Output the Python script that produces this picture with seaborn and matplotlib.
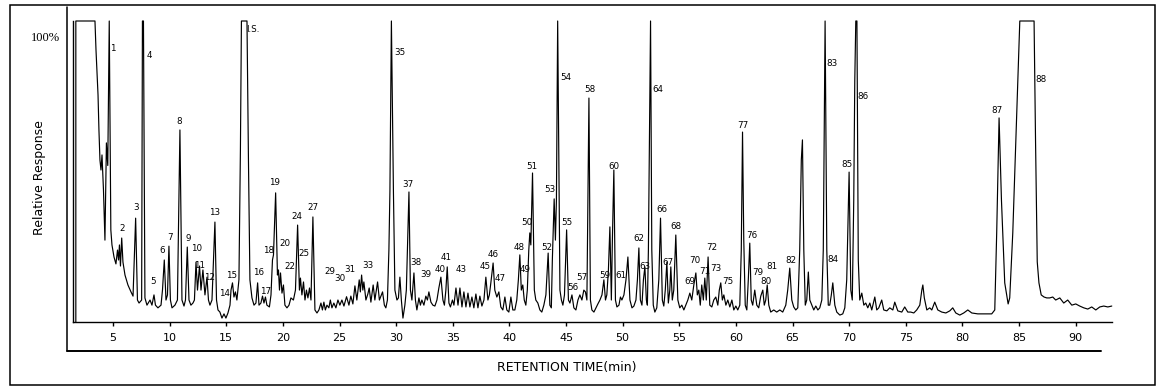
import matplotlib
matplotlib.use("Agg")
import matplotlib.pyplot as plt
from matplotlib.lines import Line2D
from matplotlib.patches import Rectangle
import seaborn as sns
import pandas as pd

# ---------------- data ----------------
# retention time (min) and relative response (%) of the trace vertices
rt = [
    1.72, 1.72, 3.41, 3.50, 3.68, 3.76, 3.85, 3.94, 4.03, 4.16, 4.29, 4.42, 4.54, 4.67, 4.81, 4.91,
    5.09, 5.26, 5.40, 5.49, 5.57, 5.66, 5.77, 5.88, 6.06, 6.32, 6.59, 6.77, 7.00, 7.16, 7.30, 7.53,
    7.60, 7.69, 7.82, 8.00, 8.27, 8.44, 8.62, 8.75, 8.97, 9.24, 9.37, 9.53, 9.68, 9.81, 9.94, 10.07,
    10.21, 10.47, 10.69, 10.91, 11.09, 11.27, 11.40, 11.56, 11.71, 11.88, 12.06, 12.19, 12.33, 12.46,
    12.64, 12.77, 12.94, 13.12, 13.30, 13.43, 13.56, 13.74, 13.87, 14.00, 14.14, 14.27, 14.44, 14.62,
    14.80, 14.97, 15.15, 15.33, 15.42, 15.55, 15.68, 15.81, 15.94, 16.12, 16.25, 16.34, 16.83, 16.96,
    17.09, 17.27, 17.45, 17.62, 17.77, 17.89, 18.06, 18.20, 18.33, 18.46, 18.59, 18.81, 18.95, 19.08,
    19.17, 19.36, 19.52, 19.61, 19.70, 19.79, 19.92, 20.05, 20.18, 20.36, 20.54, 20.71, 20.93, 21.11,
    21.30, 21.46, 21.55, 21.68, 21.82, 21.95, 22.08, 22.21, 22.35, 22.48, 22.65, 22.83, 23.01, 23.18,
    23.36, 23.49, 23.62, 23.75, 23.89, 24.06, 24.19, 24.33, 24.50, 24.68, 24.86, 25.03, 25.21, 25.39,
    25.62, 25.83, 26.00, 26.18, 26.36, 26.53, 26.74, 26.84, 26.95, 27.06, 27.15, 27.33, 27.50, 27.62,
    27.77, 27.97, 28.12, 28.36, 28.52, 28.65, 28.80, 28.96, 29.09, 29.23, 29.36, 29.45, 29.58, 29.76,
    29.89, 30.07, 30.20, 30.33, 30.46, 30.60, 30.77, 30.90, 30.99, 31.13, 31.26, 31.39, 31.57, 31.70,
    31.83, 32.01, 32.14, 32.27, 32.45, 32.62, 32.76, 32.89, 33.07, 33.24, 33.42, 33.60, 33.77, 33.95,
    34.13, 34.26, 34.39, 34.51, 34.66, 34.79, 34.97, 35.10, 35.28, 35.46, 35.63, 35.81, 35.98, 36.16,
    36.34, 36.51, 36.69, 36.86, 37.04, 37.22, 37.39, 37.57, 37.75, 37.92, 38.10, 38.23, 38.36, 38.56,
    38.71, 38.89, 39.07, 39.24, 39.42, 39.60, 39.77, 39.95, 40.13, 40.30, 40.48, 40.65, 40.79, 40.92,
    41.05, 41.18, 41.31, 41.45, 41.58, 41.71, 41.80, 41.89, 42.04, 42.20, 42.33, 42.51, 42.69, 42.86,
    43.04, 43.22, 43.42, 43.57, 43.70, 43.79, 43.95, 44.06, 44.15, 44.26, 44.46, 44.59, 44.72, 44.86,
    45.05, 45.21, 45.34, 45.52, 45.69, 45.87, 46.05, 46.22, 46.40, 46.57, 46.71, 46.84, 46.93, 47.02,
    47.15, 47.28, 47.46, 47.64, 47.81, 47.99, 48.17, 48.34, 48.48, 48.60, 48.74, 48.87, 49.00, 49.09,
    49.22, 49.36, 49.49, 49.67, 49.80, 49.93, 50.11, 50.29, 50.46, 50.64, 50.82, 50.99, 51.17, 51.30,
    51.43, 51.56, 51.70, 51.83, 51.96, 52.09, 52.18, 52.27, 52.35, 52.46, 52.57, 52.70, 52.84, 53.01,
    53.19, 53.34, 53.50, 53.63, 53.76, 53.90, 54.03, 54.16, 54.25, 54.38, 54.51, 54.69, 54.87, 55.04,
    55.22, 55.40, 55.57, 55.75, 55.93, 56.10, 56.28, 56.46, 56.59, 56.72, 56.85, 56.98, 57.12, 57.25,
    57.38, 57.54, 57.69, 57.87, 58.04, 58.22, 58.40, 58.53, 58.66, 58.80, 58.93, 59.11, 59.28, 59.46,
    59.64, 59.81, 59.99, 60.16, 60.34, 60.47, 60.58, 60.69, 60.82, 60.96, 61.09, 61.22, 61.35, 61.48,
    61.66, 61.84, 62.01, 62.19, 62.37, 62.50, 62.63, 62.76, 62.90, 63.07, 63.34, 63.60, 63.87, 64.13,
    64.40, 64.57, 64.75, 64.93, 65.10, 65.28, 65.46, 65.63, 65.77, 65.87, 65.99, 66.12, 66.25, 66.39,
    66.52, 66.70, 66.87, 67.05, 67.23, 67.40, 67.58, 67.71, 67.87, 68.02, 68.15, 68.28, 68.42, 68.55,
    68.73, 68.90, 69.17, 69.43, 69.61, 69.78, 69.99, 70.14, 70.27, 70.40, 70.49, 70.58, 70.68, 70.80,
    70.93, 71.11, 71.29, 71.46, 71.64, 71.82, 71.99, 72.26, 72.43, 72.61, 72.87, 73.05, 73.32, 73.58,
    73.85, 74.02, 74.29, 74.64, 74.90, 75.17, 75.43, 75.70, 75.96, 76.23, 76.41, 76.50, 76.63, 76.85,
    77.11, 77.29, 77.55, 77.82, 78.17, 78.53, 78.88, 79.14, 79.41, 79.76, 80.11, 80.47, 80.82, 81.35,
    81.97, 82.58, 82.85, 83.02, 83.23, 83.44, 83.73, 84.03, 84.17, 84.44, 84.73, 85.06, 86.32, 86.45,
    86.60, 86.75, 86.95, 87.20, 87.44, 87.70, 87.97, 88.23, 88.59, 88.94, 89.29, 89.65, 90.00, 90.35,
    90.71, 91.06, 91.41, 91.77, 92.12, 92.47, 92.83, 93.18,
]
resp = [
    0.0, 100, 100, 90.4, 75.4, 63.8, 53.8, 50.5, 55.5, 43.9, 27.2, 59.5, 52.0, 100, 30.6, 25.6,
    21.6, 19.3, 23.9, 20.6, 25.6, 18.6, 27.9, 19.9, 15.6, 12.3, 10.0, 8.6, 34.5, 7.3, 6.3, 7.3,
    100, 100, 8.0, 5.6, 7.3, 5.6, 9.0, 5.6, 4.7, 5.6, 10.6, 20.6, 7.3, 9.0, 25.2, 7.3,
    4.7, 5.6, 7.3, 63.8, 7.3, 5.3, 7.3, 24.9, 7.3, 5.6, 6.3, 7.3, 19.9, 10.6,
    18.6, 10.6, 17.3, 9.0, 14.9, 7.3, 5.6, 7.3, 20.6, 33.2, 7.3, 4.0, 3.3, 1.3,
    2.7, 1.3, 3.0, 5.6, 10.6, 13.0, 8.3, 10.0, 7.3, 14.0, 57.1, 100, 100, 53.8,
    14.0, 8.0, 5.6, 6.3, 13.0, 5.6, 6.3, 8.6, 6.3, 8.3, 5.6, 5.0, 9.0, 20.6,
    22.3, 42.9, 15.6, 17.3, 10.6, 16.3, 9.6, 12.3, 5.6, 4.7, 5.6, 8.0, 7.3, 10.6,
    32.2, 10.6, 14.6, 9.0, 13.3, 7.3, 10.6, 8.0, 11.3, 7.3, 34.9, 4.0, 3.0, 4.0,
    6.3, 4.0, 6.6, 4.0, 5.6, 4.7, 7.3, 4.7, 6.3, 4.7, 7.3, 5.6, 7.3, 5.3,
    8.4, 5.6, 8.6, 6.0, 12.0, 7.3, 14.0, 10.0, 15.6, 10.6, 13.3, 7.3, 9.3, 11.3,
    6.6, 12.3, 7.3, 13.3, 7.3, 8.6, 10.0, 5.6, 4.7, 7.3, 23.9, 43.5, 100, 43.2,
    10.6, 7.3, 8.0, 14.9, 7.3, 1.3, 5.6, 10.6, 23.9, 43.2, 10.6, 7.3, 16.3, 7.3,
    4.0, 8.0, 5.6, 7.3, 5.6, 8.6, 7.3, 10.0, 6.6, 5.6, 5.3, 7.3, 11.3, 14.9,
    7.3, 5.6, 10.6, 18.3, 6.3, 5.0, 7.3, 5.6, 11.3, 5.6, 11.3, 5.0, 10.0, 5.0,
    9.6, 5.0, 8.3, 4.7, 9.3, 4.7, 8.6, 5.3, 7.3, 14.9, 7.3, 9.0, 13.0, 19.6,
    10.6, 8.3, 10.0, 5.0, 4.0, 8.3, 4.0, 3.3, 8.3, 4.0, 4.0, 7.3, 14.0, 22.3,
    10.6, 12.3, 7.3, 5.6, 10.6, 23.9, 29.6, 25.6, 49.5, 10.6, 7.3, 6.3, 4.0, 3.3,
    5.6, 9.0, 22.9, 5.6, 4.7, 20.6, 40.9, 27.2, 40.5, 100, 10.6, 7.3, 5.6, 9.0,
    30.6, 7.3, 6.3, 9.0, 4.7, 4.0, 7.3, 9.0, 7.3, 10.6, 10.0, 7.3, 40.5, 74.4,
    7.3, 4.0, 3.3, 4.7, 6.0, 7.3, 9.0, 14.0, 7.3, 9.0, 17.3, 31.6, 7.3, 27.2,
    50.5, 7.3, 5.0, 5.6, 8.3, 7.3, 9.0, 14.0, 21.6, 7.3, 4.7, 5.3, 7.3, 14.0,
    24.6, 7.3, 5.6, 14.0, 18.3, 7.3, 5.6, 23.9, 57.1, 100, 23.9, 5.6, 3.3, 4.7,
    14.0, 34.5, 7.3, 5.3, 10.6, 19.9, 6.3, 10.6, 18.3, 7.3, 10.6, 28.9, 7.3, 4.7,
    5.6, 4.0, 5.6, 7.3, 9.6, 7.3, 12.3, 16.3, 9.0, 10.6, 5.6, 12.3, 7.3, 14.6,
    7.3, 21.6, 5.6, 5.0, 7.3, 8.3, 5.6, 10.6, 13.0, 7.3, 9.0, 5.6, 7.3, 5.0,
    7.3, 4.0, 5.3, 4.0, 5.6, 23.9, 63.1, 27.2, 5.6, 4.0, 14.0, 26.2, 7.3, 5.6,
    10.6, 5.6, 4.7, 8.6, 10.6, 5.6, 7.3, 12.3, 5.6, 3.3, 4.0, 3.3, 4.0, 3.3,
    5.6, 10.6, 17.9, 7.3, 5.0, 4.0, 4.7, 23.9, 53.8, 60.5, 23.9, 5.6, 7.3, 16.6,
    7.3, 5.6, 4.0, 5.3, 4.0, 4.7, 7.3, 23.9, 100, 23.9, 5.6, 5.6, 9.0, 13.0,
    5.6, 3.3, 2.3, 2.7, 4.7, 14.0, 49.8, 10.6, 7.3, 40.5, 80.0, 100, 100, 20.6,
    7.3, 9.6, 5.6, 6.3, 4.7, 6.3, 4.0, 8.3, 4.0, 4.7, 7.3, 4.0, 3.7, 4.7,
    4.0, 6.6, 3.7, 3.3, 5.0, 3.3, 3.3, 3.0, 4.0, 5.6, 10.6, 12.3, 8.0, 4.0,
    4.7, 4.0, 6.6, 4.0, 3.3, 3.0, 3.7, 4.7, 3.0, 2.3, 3.0, 4.0, 3.0, 2.7,
    2.7, 2.7, 4.0, 29.6, 67.8, 40.5, 13.0, 6.0, 8.0, 29.6, 62.7, 100, 100, 60.0,
    20.0, 13.0, 9.0, 8.3, 8.0, 8.0, 8.3, 7.3, 8.0, 6.3, 7.3, 5.6, 6.0, 5.3,
    4.7, 4.3, 5.0, 4.0, 5.0, 5.3, 5.0, 5.3,
]

# peak numbers and where each number is written (time, % response)
peak_labels = ["1", "2", "3", "4", "5", "6", "7", "8", "9", "10", "11", "12", "13", "14", "15",
               "I.S.", "16", "17", "18", "19", "20", "22", "24", "25", "27", "29", "30", "31",
               "33", "35", "37", "38", "39", "40", "41", "43", "45", "46", "47", "48", "49", "50",
               "51", "52", "53", "54", "55", "56", "57", "58", "59", "60", "61", "62", "63", "64",
               "66", "67", "68", "69", "70", "71", "72", "73", "75", "76", "77", "79", "80", "81",
               "82", "83", "84", "85", "86", "87", "88"]
label_rt = [5.00, 5.85, 7.00, 8.18, 8.56, 9.37, 10.03, 10.85, 11.68, 12.39, 12.68, 13.48, 13.94,
            14.88, 15.47, 17.36, 17.83, 18.45, 18.77, 19.30, 20.16, 20.60, 21.22, 21.84, 22.67,
            24.15, 25.03, 25.91, 27.53, 30.33, 31.06, 31.74, 32.62, 33.86, 34.45, 35.77, 37.82,
            38.56, 39.15, 40.86, 41.36, 41.56, 41.95, 43.27, 43.56, 44.95, 45.04, 45.62, 46.37,
            47.10, 48.42, 49.22, 49.84, 51.45, 51.95, 53.13, 53.43, 54.01, 54.69, 55.93, 56.40,
            57.22, 57.84, 58.22, 59.30, 61.37, 60.63, 61.96, 62.64, 63.17, 64.82, 68.44, 68.58,
            69.81, 71.23, 83.09, 86.97]
label_resp = [90.7, 31.2, 38.2, 88.4, 13.6, 23.8, 28.2, 66.5, 27.7, 24.3, 18.9, 14.9, 36.3,
              9.6, 15.3, 97.3, 16.3, 10.1, 23.9, 46.3, 26.2, 18.3, 35.2, 22.9, 37.9, 16.9,
              14.6, 17.6, 18.9, 89.7, 45.8, 19.9, 15.9, 17.3, 21.3, 17.6, 18.3, 22.3, 14.3,
              24.6, 17.6, 33.2, 51.8, 24.9, 43.9, 81.1, 32.9, 11.6, 14.9, 77.1, 15.6, 51.8,
              15.3, 27.6, 18.3, 77.1, 37.5, 19.9, 31.6, 13.3, 20.3, 16.8, 24.6, 17.9, 13.6,
              28.9, 65.4, 16.3, 13.6, 18.3, 20.4, 86.0, 20.6, 52.2, 74.8, 70.4, 80.6]

x_ticks = [5, 10, 15, 20, 25, 30, 35, 40, 45, 50, 55, 60, 65, 70, 75, 80, 85, 90]

# ---------------- drawing ----------------
sns.set_theme(style="ticks")
plt.rcParams["font.family"] = ["DejaVu Sans"]

W, H = 1159, 392
fig = plt.figure(figsize=(W / 100, H / 100), dpi=100)
fig.patch.set_facecolor("white")


def fx(px):
    return px / W


def fy(py):
    return 1 - py / H


ax = fig.add_axes([fx(73), fy(322), fx(1112) - fx(73), fy(21) - fy(322)])
ax.set_facecolor("white")

df = pd.DataFrame({"rt": rt, "resp": resp})
sns.lineplot(data=df, x="rt", y="resp", estimator=None, sort=False,
             color="black", linewidth=0.85, ax=ax)
for ln in ax.get_lines():
    ln.set_clip_on(False)

ax.set_xlim(1.47, 93.2)
ax.set_ylim(0, 100)
ax.set_xticks(x_ticks)
ax.set_xticklabels([str(t) for t in x_ticks], fontsize=8)
ax.set_yticks([])
ax.tick_params(axis="x", direction="out", length=3, width=1, pad=5, colors="black")
for s in ["top", "right"]:
    ax.spines[s].set_visible(False)
for s in ["left", "bottom"]:
    ax.spines[s].set_color("black")
    ax.spines[s].set_linewidth(1.0)
ax.set_xlabel("")
ax.set_ylabel("")

for lab, t, h in zip(peak_labels, label_rt, label_resp):
    ax.text(t, h, lab, ha="center", va="center", fontsize=6.3, color="black",
            family=["DejaVu Sans"])

# axis titles
fig.text(fx(567), fy(367), "RETENTION TIME(min)", ha="center", va="center",
         fontsize=9, color="black")
fig.text(fx(40), fy(178), "Relative Response", ha="center", va="center",
         rotation=90, fontsize=9, color="black")
fig.text(fx(45), fy(38), "100%", ha="center", va="center", fontsize=9,
         family=["Liberation Serif"], color="black")

# frames
fig.add_artist(Rectangle((fx(10), fy(385)), fx(1155) - fx(10), fy(5) - fy(385),
                         transform=fig.transFigure, fill=False, lw=1.1, ec="black"))
fig.add_artist(Line2D([fx(67), fx(67)], [fy(7), fy(351)], transform=fig.transFigure,
                      color="black", lw=1.1))
fig.add_artist(Line2D([fx(67), fx(1101)], [fy(351), fy(351)], transform=fig.transFigure,
                      color="black", lw=1.4))

fig.savefig("out.png", dpi=100, facecolor="white")
